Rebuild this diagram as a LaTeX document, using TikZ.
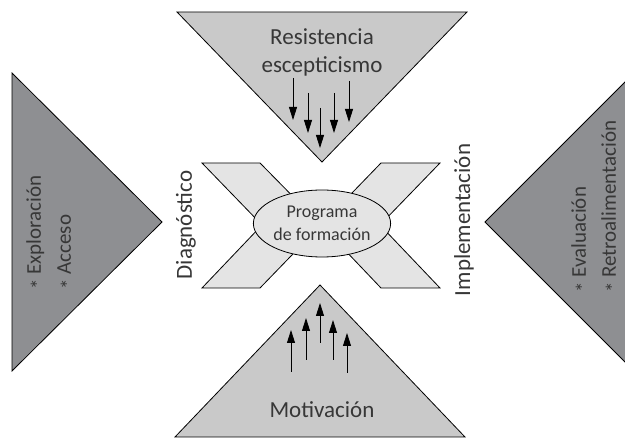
\documentclass[tikz,border=0pt]{standalone}
\usepackage{fontspec}
\setmainfont{Carlito}
\usetikzlibrary{arrows.meta,shapes.geometric}
\definecolor{lightgr}{RGB}{201,201,201}
\definecolor{darkgr}{RGB}{142,143,146}
\definecolor{xgr}{RGB}{228,228,228}
\definecolor{txt}{RGB}{55,55,55}
\newcommand{\bulletstar}{\raisebox{-0.22em}{*}}

\begin{document}
\begin{tikzpicture}[x=1pt, y=-1pt, every node/.style={text=txt},
	tri/.style={draw, line width=0.8pt, line join=miter},
	lab/.style={font=\fontsize{23}{28}\selectfont, inner sep=0pt, align=center},
	side/.style={font=\fontsize{21}{30}\selectfont, inner sep=0pt, align=left, rotate=90, anchor=west},
	push/.style={line width=0.8pt, -{Triangle[length=13pt, width=8pt]}}]
	\useasboundingbox (0,0) rectangle (625,438);
	\clip (0,0) rectangle (625,438);

	% the four triangles
	\draw[tri, fill=lightgr] (177,12) -- (467,12) -- (322,162) -- cycle;
	\draw[tri, fill=lightgr] (175,437) -- (465,437) -- (320,285) -- cycle;
	\draw[tri, fill=darkgr] (12,73) -- (162,222) -- (12,371) -- cycle;
	\draw[tri, fill=darkgr] (635,72) -- (485,222) -- (635,372) -- cycle;

	% the X behind the programme
	\draw[tri, fill=xgr] (202,163) -- (260,163) -- (321,225) -- (381,163) -- (440,163)
		-- (380,225) -- (440,288) -- (381,288) -- (321,225) -- (260,288) -- (202,288)
		-- (262,225) -- cycle;
	\node[ellipse, draw, line width=0.8pt, fill=xgr, minimum width=120pt, minimum height=67pt,
		inner sep=0pt, align=center, font=\fontsize{18}{23}\selectfont](PROG) at (322,223.5){Programa\\de formación};

	\node[lab](RES) at (322,52){Resistencia\\escepticismo};
	\node[lab](MOT) at (322,410){Motivación};
	\node[lab, rotate=90](DIAG) at (186,225){Diagnóstico};
	\node[lab, rotate=90](IMPL) at (464,220){Implementación};

	\node[side](EXP) at (51,290){\bulletstar{} Exploración\\\bulletstar{} Acceso};
	\node[side](EVA) at (596,293){\bulletstar{} Evaluación\\\bulletstar{} Retroalimentación};

	% arrows down (resistance) and up (motivation)
	\foreach \i/\x/\ya/\yb in {1/293/78/120, 2/308/93/133, 3/320/108/148, 4/334/93/133, 5/349/81/122}{
		\coordinate (D\i a) at (\x,\ya);
		\coordinate (D\i b) at (\x,\yb);
		\draw[push] (D\i a) -- (D\i b);
	}
	\foreach \i/\x/\ya/\yb in {1/291/372/330, 2/306/360/318, 3/320/343/303, 4/333/360/320, 5/347/373/333}{
		\coordinate (U\i a) at (\x,\ya);
		\coordinate (U\i b) at (\x,\yb);
		\draw[push] (U\i a) -- (U\i b);
	}
\end{tikzpicture}
\end{document}
